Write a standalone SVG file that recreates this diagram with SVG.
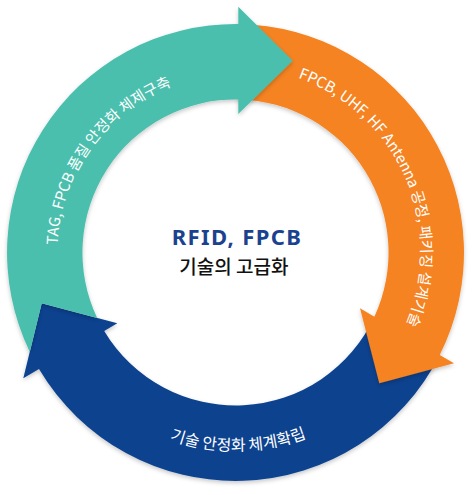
<svg xmlns="http://www.w3.org/2000/svg" width="473" height="495" viewBox="0 0 473 495">
  <defs>
    <filter id="shadow" x="-10%" y="-10%" width="120%" height="120%">
      <feDropShadow dx="0" dy="2" stdDeviation="2" flood-color="#000" flood-opacity="0.22"/>
    </filter>
    <path id="tp-teal" d="M 81.35,341.5 A 178 178 0 0 1 270.7,78.0"/>
    <path id="tp-orange" d="M 236.47,67.0 A 185.5 185.5 0 0 1 372.7,377.3"/>
    <path id="tp-blue" d="M 55.3,335.8 A 198.5 198.5 0 0 0 417.9,330.7"/>
  </defs>
  <style>
    .band { filter: url(#shadow); }
    .teal { fill: #4BBFAD; }
    .orange { fill: #F58320; }
    .blue { fill: #0B428F; }
    .arc-label { fill: #ffffff; font-family: "Noto Sans CJK KR", "Noto Sans", sans-serif; font-size: 15px; }
    .title { fill: #1B428F; font-family: "Noto Sans", "Liberation Sans", sans-serif; font-weight: 700; font-size: 22px; }
    .subtitle { fill: #111111; font-family: "Noto Sans CJK KR", sans-serif; font-weight: 500; font-size: 19px; }
  </style>
  <rect width="473" height="495" fill="#ffffff"/>
  <g id="connectors">
    <g id="arrow-blue">
      <path class="band blue" d="M 439.7,355.0 A 228.5 228.5 0 0 1 39.0,369.1 L 23.3,378.3 L 41.7,303.3 L 117.3,323.3 L 104.2,331.0 A 153 153 0 0 0 374.4,316.7 Z"/>
      <text class="arc-label" style="font-size:16px"><textPath href="#tp-blue" startOffset="50%" text-anchor="middle">기술 안정화 체계확립</textPath></text>
    </g>
    <g id="arrow-orange">
      <path class="band orange" d="M 238.3,24.0 A 228.5 228.5 0 0 1 439.7,355.0 L 454,363.3 L 379.3,383.3 L 360,308.3 L 374.4,316.7 A 153 153 0 0 0 238.3,99.5 Z"/>
      <text class="arc-label"><textPath href="#tp-orange" startOffset="50%" text-anchor="middle">FPCB, UHF, HF Antenna 공정, 패키징 설계기술</textPath></text>
    </g>
    <g id="arrow-teal">
      <path class="band teal" d="M 29.8,351.9 A 228.5 228.5 0 0 1 238.3,24.0 L 238.3,6.7 L 292.7,60.7 L 238.3,114 L 238.3,99.5 A 153 153 0 0 0 97.2,318.0 L 41.7,303.3 Z"/>
      <text class="arc-label"><textPath href="#tp-teal" startOffset="50%" text-anchor="middle">TAG, FPCB 품질 안정화 체제구축</textPath></text>
    </g>
  </g>
  <g id="center">
    <text class="title" x="236.3" y="245.3" text-anchor="middle" textLength="129" lengthAdjust="spacing">RFID, FPCB</text>
    <text class="subtitle" x="233.8" y="274" text-anchor="middle">기술의 고급화</text>
  </g>
</svg>
